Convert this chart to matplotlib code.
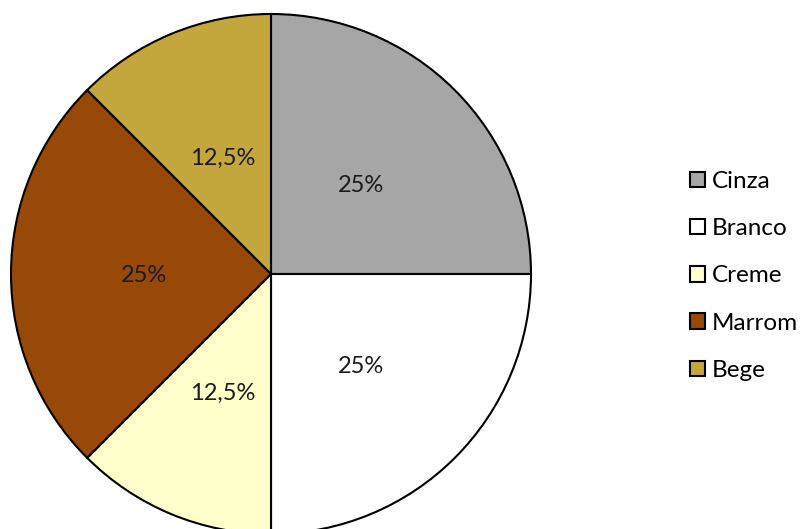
import matplotlib.pyplot as plt
from matplotlib.patches import Patch
import numpy as np

categories = ["Cinza", "Branco", "Creme", "Marrom", "Bege"]
shares = [25, 25, 12.5, 25, 12.5]
colors = ["#A6A6A6", "#FFFFFF", "#FFFFCC", "#984807", "#C4A73C"]

plt.rcParams['font.family'] = ['Lato', 'DejaVu Sans']

W, H = 801, 529
fig = plt.figure(figsize=(W / 100, H / 100), dpi=100)
ax = fig.add_axes([0, 0, 1, 1])

cx, cy, r = 271, H - 274, 260
wedges, texts = ax.pie(
    shares, colors=colors, startangle=90, counterclock=False,
    center=(cx, cy), radius=r,
    wedgeprops=dict(edgecolor="black", linewidth=1.5),
)

# percentage labels with decimal comma
for w, v in zip(wedges, shares):
    ang = np.deg2rad((w.theta1 + w.theta2) / 2)
    lbl = ("%g" % v).replace(".", ",") + "%"
    ax.text(cx + 0.49 * r * np.cos(ang), cy + 0.49 * r * np.sin(ang) - 2, lbl,
            ha="center", va="center", fontsize=17, color="#1a1a1a")

ax.set_xlim(0, W)
ax.set_ylim(0, H)
ax.set_aspect("equal")
ax.axis("off")

handles = [Patch(facecolor=c, edgecolor="black", linewidth=1.5) for c in colors]
fig.legend(handles, categories, loc="center left", bbox_to_anchor=(690 / W, 1 - 276 / H),
           frameon=False, fontsize=17.5, handlelength=0.6, handleheight=0.6,
           handletextpad=0.3, labelspacing=1.08, borderpad=0, borderaxespad=0)

fig.savefig("out.png", dpi=100)
